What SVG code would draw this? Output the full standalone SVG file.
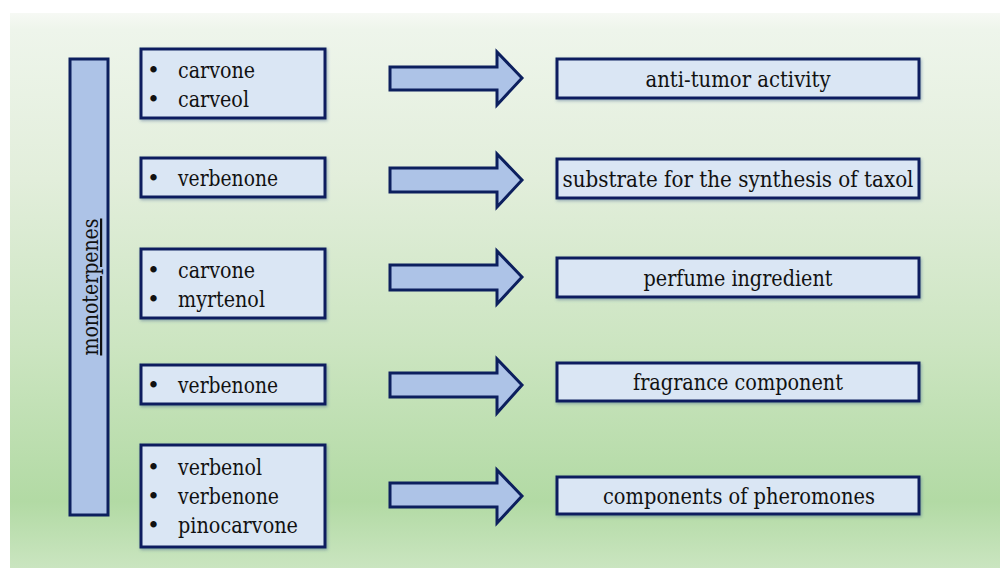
<svg xmlns="http://www.w3.org/2000/svg" width="1003" height="571" viewBox="0 0 1003 571" font-family="DejaVu Serif, serif">
<defs>
<linearGradient id="bg" x1="0" y1="0" x2="0" y2="1">
<stop offset="0" stop-color="#f6f9f4"/>
<stop offset="0.03" stop-color="#eef5eb"/>
<stop offset="0.3" stop-color="#e2eedb"/>
<stop offset="0.6" stop-color="#cce5c1"/>
<stop offset="0.88" stop-color="#b2daa4"/>
<stop offset="1" stop-color="#cae5c0"/>
</linearGradient>
<filter id="sh" x="-10%" y="-20%" width="120%" height="140%">
<feDropShadow dx="1" dy="1.5" stdDeviation="1.5" flood-color="#3a5a8a" flood-opacity="0.45"/>
</filter>
</defs>
<style>
.box{fill:#dae6f4;stroke:#0c1f5e;stroke-width:3;filter:url(#sh)}
.bar{fill:#adc3e7;stroke:#0c1f5e;stroke-width:3}
.arr{fill:#adc3e7;stroke:#0c1f5e;stroke-width:3;stroke-linejoin:miter}
text{font-size:22px;fill:#111}
.c{text-anchor:middle}
</style>
<rect x="0" y="0" width="1003" height="571" fill="#ffffff"/>
<rect x="10" y="13" width="990" height="555" fill="url(#bg)"/>

<g id="monoterpenes">
<rect class="bar" x="70" y="59" width="38" height="456"/>
<text x="0" y="0" text-anchor="middle" text-decoration="underline" textLength="137" lengthAdjust="spacingAndGlyphs" transform="translate(98 287) rotate(-90)">monoterpenes</text>
</g>

<g id="src1">
<rect class="box" x="141" y="49" width="184" height="69"/>
<text x="147" y="78">•</text><text x="178" y="78" textLength="77" lengthAdjust="spacingAndGlyphs">carvone</text>
<text x="147" y="107">•</text><text x="178" y="107" textLength="71" lengthAdjust="spacingAndGlyphs">carveol</text>
</g>
<g id="src2">
<rect class="box" x="141" y="158" width="184" height="39"/>
<text x="147" y="186">•</text><text x="178" y="186" textLength="100" lengthAdjust="spacingAndGlyphs">verbenone</text>
</g>
<g id="src3">
<rect class="box" x="141" y="249" width="184" height="69"/>
<text x="147" y="278">•</text><text x="178" y="278" textLength="77" lengthAdjust="spacingAndGlyphs">carvone</text>
<text x="147" y="307">•</text><text x="178" y="307" textLength="87" lengthAdjust="spacingAndGlyphs">myrtenol</text>
</g>
<g id="src4">
<rect class="box" x="141" y="365" width="184" height="39"/>
<text x="147" y="393">•</text><text x="178" y="393" textLength="100" lengthAdjust="spacingAndGlyphs">verbenone</text>
</g>
<g id="src5">
<rect class="box" x="141" y="445" width="184" height="102"/>
<text x="147" y="475">•</text><text x="178" y="475" textLength="84" lengthAdjust="spacingAndGlyphs">verbenol</text>
<text x="147" y="504">•</text><text x="178" y="504" textLength="101" lengthAdjust="spacingAndGlyphs">verbenone</text>
<text x="147" y="533">•</text><text x="178" y="533" textLength="120" lengthAdjust="spacingAndGlyphs">pinocarvone</text>
</g>

<g id="connectors">
<path class="arr" d="M390 67 H497 V52 L522 78 L497 105 V90 H390 Z"/>
<path class="arr" d="M390 168 H497 V154 L522 180 L497 207 V192 H390 Z"/>
<path class="arr" d="M390 265 H497 V251 L522 277 L497 304 V290 H390 Z"/>
<path class="arr" d="M390 373 H497 V359 L522 385 L497 413 V397 H390 Z"/>
<path class="arr" d="M390 483 H497 V470 L522 496 L497 523 V507 H390 Z"/>
</g>

<g id="use1">
<rect class="box" x="557" y="59" width="362" height="39"/>
<text class="c" x="738" y="87" textLength="185" lengthAdjust="spacingAndGlyphs">anti-tumor activity</text>
</g>
<g id="use2">
<rect class="box" x="557" y="159" width="362" height="39"/>
<text class="c" x="738" y="187" textLength="351" lengthAdjust="spacingAndGlyphs">substrate for the synthesis of taxol</text>
</g>
<g id="use3">
<rect class="box" x="557" y="258" width="362" height="39"/>
<text class="c" x="738" y="286" textLength="189" lengthAdjust="spacingAndGlyphs">perfume ingredient</text>
</g>
<g id="use4">
<rect class="box" x="557" y="363" width="362" height="38"/>
<text class="c" x="738" y="390" textLength="210" lengthAdjust="spacingAndGlyphs">fragrance component</text>
</g>
<g id="use5">
<rect class="box" x="557" y="477" width="362" height="37"/>
<text class="c" x="739" y="504" textLength="272" lengthAdjust="spacingAndGlyphs">components of pheromones</text>
</g>
</svg>
